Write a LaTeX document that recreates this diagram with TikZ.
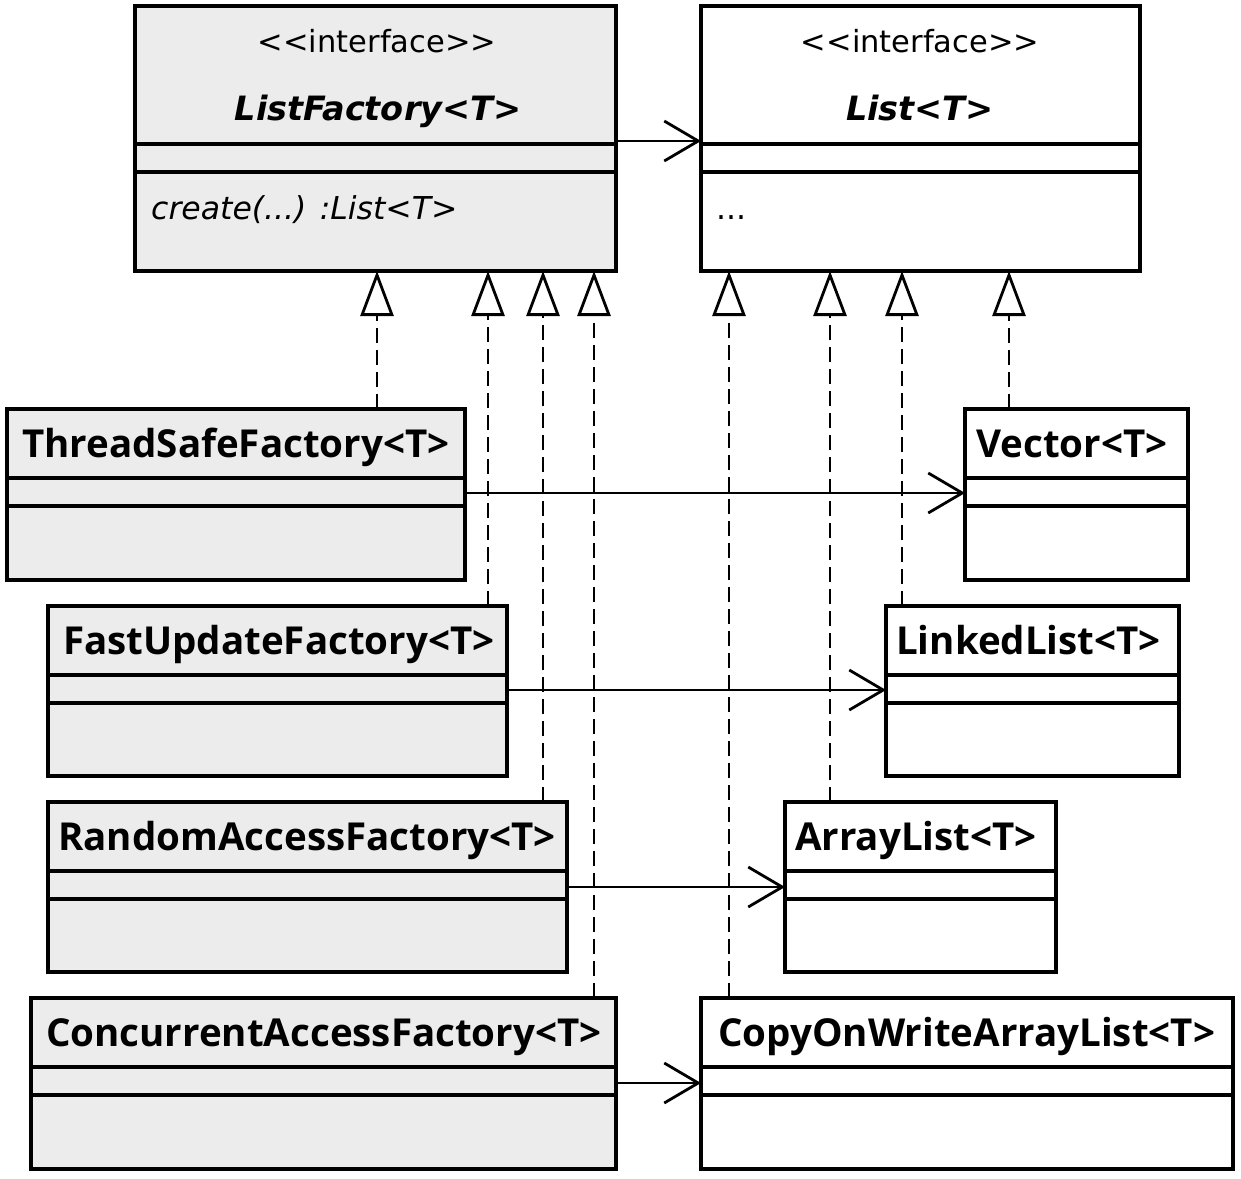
\documentclass[tikz,border=0pt]{standalone}
\usepackage{fontspec}
\setmainfont{DejaVu Sans}[Ligatures=TeXOff]
\newfontfamily\hdrfont{Open Sans}[Ligatures=TeXOff]
\usetikzlibrary{arrows.meta}
\definecolor{boxgray}{HTML}{ECECEC}
\tikzset{
  x=1pt, y=-1pt,
  classbox/.style={draw, line width=3.2pt, anchor=north west, inner sep=0pt, outer sep=0pt},
  factorybox/.style={classbox, fill=boxgray},
  listbox/.style={classbox, fill=white},
  sepline/.style={line width=3.2pt},
  hdr/.style={anchor=base west, inner sep=0pt, font=\hdrfont\fontsize{38.5}{44}\selectfont\bfseries},
  stereo/.style={inner sep=0pt, anchor=base, font=\fontsize{30.5}{36}\selectfont},
  ititle/.style={inner sep=0pt, anchor=base, font=\fontsize{33.5}{38}\selectfont\bfseries\itshape},
  memb/.style={inner sep=0pt, anchor=base west, font=\fontsize{31.5}{36}\selectfont},
  assoc/.style={line width=2.8pt, -{Straight Barb[length=34pt,width=40pt,line width=2.8pt]}},
  realize/.style={line width=2.8pt, dash pattern=on 15pt off 7pt, -{Triangle[open,length=45pt,width=33pt,line width=2.8pt,fill=white]}},
}
\begin{document}
\begin{tikzpicture}
\useasboundingbox (0,0) rectangle (1241,1178);
% interfaces
\node[factorybox, minimum width=481pt, minimum height=265pt] (lf) at (135,6) {};
\node[listbox, minimum width=439pt, minimum height=265pt] (li) at (701,6) {};
\foreach \b in {lf,li}{
  \draw[sepline] ([yshift=-138pt]\b.north west) -- ([yshift=-138pt]\b.north east);
  \draw[sepline] ([yshift=-166pt]\b.north west) -- ([yshift=-166pt]\b.north east);
}
\node[stereo] (lfs) at (377,52) {<<interface>>};
\node[ititle] (lft) at (378,120) {ListFactory<T>};
\node[memb] (lfm) at (151,219) {\itshape create(...) :List<T>};
\node[stereo] (lis) at (920,52) {<<interface>>};
\node[ititle] (lit) at (920,120) {List<T>};
\node[memb] (lim) at (716,219) {...};
% factories
\node[factorybox, minimum width=458pt, minimum height=171pt] (tsf) at (7,409) {};
\node[factorybox, minimum width=459pt, minimum height=170pt] (fuf) at (48,606) {};
\node[factorybox, minimum width=519pt, minimum height=170pt] (raf) at (48,802) {};
\node[factorybox, minimum width=585pt, minimum height=171pt] (caf) at (31,998) {};
% lists
\node[listbox, minimum width=223pt, minimum height=171pt] (vec) at (965,409) {};
\node[listbox, minimum width=293pt, minimum height=170pt] (lnk) at (886,606) {};
\node[listbox, minimum width=271pt, minimum height=170pt] (arr) at (785,802) {};
\node[listbox, minimum width=532pt, minimum height=171pt] (cow) at (701,998) {};
\foreach \b in {tsf,fuf,raf,caf,vec,lnk,arr,cow}{
  \draw[sepline] ([yshift=-69pt]\b.north west) -- ([yshift=-69pt]\b.north east);
  \draw[sepline] ([yshift=-97pt]\b.north west) -- ([yshift=-97pt]\b.north east);
}
\node[hdr] (tsft) at ([xshift=15pt,yshift=-48pt]tsf.north west) {ThreadSafeFactory<T>};
\node[hdr] (luft) at ([xshift=15pt,yshift=-48pt]fuf.north west) {FastUpdateFactory<T>};
\node[hdr] (raft) at ([xshift=10pt,yshift=-48pt]raf.north west) {RandomAccessFactory<T>};
\node[hdr] (caft) at ([xshift=15pt,yshift=-48pt]caf.north west) {ConcurrentAccessFactory<T>};
\node[hdr] (vect) at ([xshift=11pt,yshift=-48pt]vec.north west) {Vector<T>};
\node[hdr] (lnkt) at ([xshift=10pt,yshift=-48pt]lnk.north west) {LinkedList<T>};
\node[hdr] (arrt) at ([xshift=10pt,yshift=-48pt]arr.north west) {ArrayList<T>};
\node[hdr] (cowt) at ([xshift=17pt,yshift=-48pt]cow.north west) {CopyOnWriteArrayList<T>};
% x positions for realization lines
\coordinate (xa) at (377,0);
\coordinate (xb) at (488,0);
\coordinate (xc) at (543,0);
\coordinate (xd) at (594,0);
\coordinate (xe) at (729,0);
\coordinate (xf) at (830,0);
\coordinate (xg) at (902,0);
\coordinate (xh) at (1009,0);
\draw[realize] (xa |- tsf.north) -- (xa |- lf.south);
\draw[realize] (xb |- fuf.north) -- (xb |- lf.south);
\draw[realize] (xc |- raf.north) -- (xc |- lf.south);
\draw[realize] (xd |- caf.north) -- (xd |- lf.south);
\draw[realize] (xe |- cow.north) -- (xe |- li.south);
\draw[realize] (xf |- arr.north) -- (xf |- li.south);
\draw[realize] (xg |- lnk.north) -- (xg |- li.south);
\draw[realize] (xh |- vec.north) -- (xh |- li.south);
% associations
\coordinate (ya) at (0,141);
\coordinate (yb) at (0,493);
\coordinate (yc) at (0,690);
\coordinate (yd) at (0,887);
\coordinate (ye) at (0,1083);
\draw[assoc] (lf.east |- ya) -- (li.west |- ya);
\draw[assoc] (tsf.east |- yb) -- (vec.west |- yb);
\draw[assoc] (fuf.east |- yc) -- (lnk.west |- yc);
\draw[assoc] (raf.east |- yd) -- (arr.west |- yd);
\draw[assoc] (caf.east |- ye) -- (cow.west |- ye);
\end{tikzpicture}
\end{document}
